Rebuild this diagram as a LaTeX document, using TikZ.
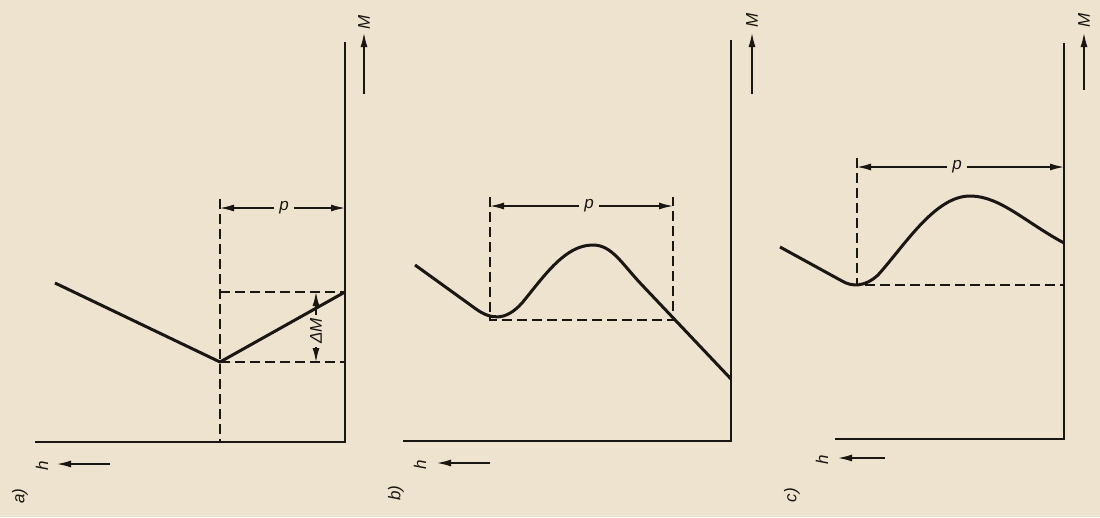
\documentclass[tikz,border=0pt]{standalone}
\usepackage{fontspec}
\setmainfont{Liberation Sans}
\usetikzlibrary{arrows.meta}
\definecolor{paper}{RGB}{238,227,206}
\definecolor{ink}{RGB}{25,22,20}
\tikzset{
  axis/.style={draw=ink,line width=2.2pt},
  curve/.style={draw=ink,line width=3pt,line join=round},
  guide/.style={draw=ink,line width=1.5pt,dash pattern=on 10pt off 5pt},
  dim/.style={draw=ink,line width=1.4pt,-{Latex[length=14pt,width=7pt]}},
  lbl/.style={text=ink,font=\itshape\fontsize{17}{20}\selectfont,inner sep=5pt},
  rlbl/.style={lbl,rotate=90},
}
\begin{document}
\begin{tikzpicture}[x=1pt,y=-1pt]
\fill[paper] (0,0) rectangle (1100,517);
\useasboundingbox (0,0) rectangle (1100,517);
% ---------------- panel a
\coordinate (aO) at (345,442);
\coordinate (aT) at (345,42);
\coordinate (aL) at (35,442);
\draw[axis] (aL) -- (aO) -- (aT);
\coordinate (aS) at (55,283);
\coordinate (aMin) at (220,362);
\coordinate (aE) at (345,292);
\draw[curve] (aS) -- (aMin) -- (aE);
\coordinate (aVt) at (220,199);
\coordinate (aVb) at (220,442);
\draw[guide] (aVt) -- (aVb);
\coordinate (aHu) at (220,292);
\coordinate (aHl) at (220,362);
\coordinate (aHlR) at (345,362);
\draw[guide] (aHu) -- (aE);
\draw[guide] (aHl) -- (aHlR);
\node[lbl] (ap) at (284,208) {p};
\coordinate (apL) at (220,208);
\coordinate (apR) at (345,208);
\draw[dim] (ap) -- (apL);
\draw[dim] (ap) -- (apR);
\node[rlbl,inner sep=3pt] (adM) at (316,331) {ΔM};
\coordinate (adU) at (316,292);
\coordinate (adD) at (316,362);
\draw[dim] (adM) -- (adU);
\draw[dim] (adM) -- (adD);
\coordinate (aMa) at (364,94);
\coordinate (aMb) at (364,33);
\draw[dim] (aMa) -- (aMb);
\node[rlbl] (aM) at (364,22) {M};
\coordinate (aha) at (110,464);
\coordinate (ahb) at (57,464);
\draw[dim] (aha) -- (ahb);
\node[rlbl] (ah) at (42,466) {h};
\node[rlbl] (atag) at (20,496) {a)};
% ---------------- panel b
\coordinate (bO) at (731,441);
\coordinate (bT) at (731,40);
\coordinate (bL) at (403,441);
\draw[axis] (bL) -- (bO) -- (bT);
\coordinate (bS) at (415,265);
\coordinate (bE) at (731,379);
\draw[curve] (bS) -- (476,309) .. controls (490,319) and (505,322) .. (522,303)
  .. controls (545,275) and (565,245) .. (593,245)
  .. controls (612,245) and (622,264) .. (642,285) -- (bE);
\coordinate (bV1t) at (490,197);
\coordinate (bV1b) at (490,320);
\coordinate (bV2t) at (673,197);
\coordinate (bV2b) at (673,320);
\draw[guide] (bV1t) -- (bV1b) -- (bV2b) -- (bV2t);
\node[lbl] (bp) at (589,206) {p};
\coordinate (bpL) at (490,206);
\coordinate (bpR) at (673,206);
\draw[dim] (bp) -- (bpL);
\draw[dim] (bp) -- (bpR);
\coordinate (bMa) at (752,94);
\coordinate (bMb) at (752,33);
\draw[dim] (bMa) -- (bMb);
\node[rlbl] (bM) at (752,20) {M};
\coordinate (bha) at (490,463);
\coordinate (bhb) at (437,463);
\draw[dim] (bha) -- (bhb);
\node[rlbl] (bh) at (420,465) {h};
\node[rlbl] (btag) at (396,493) {b)};
% ---------------- panel c
\coordinate (cO) at (1064,439);
\coordinate (cT) at (1064,43);
\coordinate (cL) at (835,439);
\draw[axis] (cL) -- (cO) -- (cT);
\coordinate (cS) at (780,247);
\coordinate (cE) at (1064,243);
\draw[curve] (cS) -- (842,281) .. controls (852,287) and (865,287) .. (878,275)
  .. controls (905,245) and (935,196) .. (970,196)
  .. controls (1000,196) and (1025,222) .. (cE);
\coordinate (cVt) at (857,158);
\coordinate (cVb) at (857,285);
\coordinate (cHr) at (1064,285);
\draw[guide] (cVt) -- (cVb) -- (cHr);
\node[lbl] (cp) at (957,167) {p};
\coordinate (cpL) at (857,167);
\coordinate (cpR) at (1064,167);
\draw[dim] (cp) -- (cpL);
\draw[dim] (cp) -- (cpR);
\coordinate (cMa) at (1084,90);
\coordinate (cMb) at (1084,33);
\draw[dim] (cMa) -- (cMb);
\node[rlbl] (cM) at (1084,20) {M};
\coordinate (cha) at (885,458);
\coordinate (chb) at (838,458);
\draw[dim] (cha) -- (chb);
\node[rlbl] (ch) at (822,460) {h};
\node[rlbl] (ctag) at (792,495) {c)};
\end{tikzpicture}
\end{document}
